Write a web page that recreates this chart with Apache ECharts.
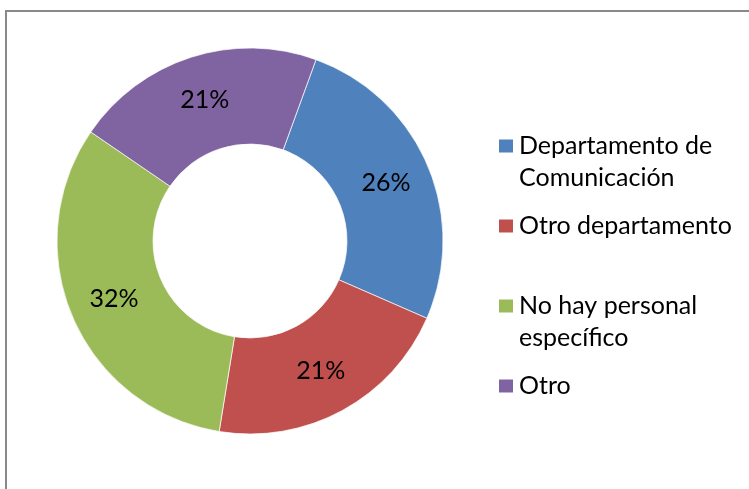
<!DOCTYPE html>
<html>
<head>
<meta charset="utf-8">
<script src="https://cdn.jsdelivr.net/npm/echarts@6/dist/echarts.min.js"></script>
<style>
  html, body { margin: 0; padding: 0; background: #fff; }
  #chart { width: 749px; height: 489px; }
</style>
</head>
<body>
<div id="chart"></div>
<script>
// Categories and their shares (percent)
const categories = [
  'Departamento de\nComunicación',
  'Otro departamento',
  'No hay personal\nespecífico',
  'Otro'
];
const shares = [26, 21, 32, 21];
const colors = ['#4F81BD', '#C0504D', '#9BBB59', '#8064A2'];

const FONT = 'Lato';
const FONT_SIZE = 25;
const LINE_H = 32;

const chart = echarts.init(document.getElementById('chart'), null, { renderer: 'canvas' });

const pieData = categories.map((name, i) => ({
  name: name,
  value: shares[i],
  itemStyle: { color: colors[i] }
}));

chart.setOption({
  animation: false,
  graphic: [{
    type: 'rect',
    silent: true,
    shape: { x: 6, y: 11, width: 800, height: 600 },
    style: { fill: 'none', stroke: '#898989', lineWidth: 2 }
  }],
  legend: {
    orient: 'vertical',
    left: 497,
    top: 98,
    padding: 0,
    itemGap: 16,
    itemWidth: 16,
    itemHeight: 15,
    icon: 'rect',
    selectedMode: false,
    data: categories,
    // A blank leading line keeps the swatch level with the first line of wrapped names
    formatter: name => (name.indexOf('\n') >= 0 ? '\n' + name : name),
    textStyle: {
      fontFamily: FONT,
      fontSize: FONT_SIZE,
      lineHeight: LINE_H,
      color: '#000'
    }
  },
  series: [{
    type: 'pie',
    center: [250, 241],
    radius: [97, 193],
    startAngle: 70,
    clockwise: true,
    percentPrecision: 0,
    silent: true,
    data: pieData,
    itemStyle: { borderColor: '#fff', borderWidth: 0.7 },
    label: {
      show: true,
      position: 'inside',
      formatter: '{d}%',
      fontFamily: FONT,
      fontSize: FONT_SIZE,
      color: '#000',
      padding: [6, 0, 0, 0]
    },
    labelLine: { show: false },
    emphasis: { disabled: true }
  }]
});
</script>
</body>
</html>
